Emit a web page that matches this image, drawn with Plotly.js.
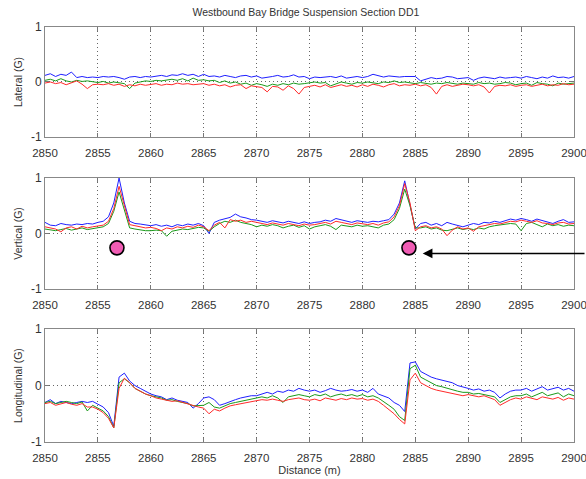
<!DOCTYPE html>
<html><head><meta charset="utf-8">
<script src="https://cdn.plot.ly/plotly-3.0.1.min.js"></script>
<style>html,body{margin:0;padding:0;background:#fff}#chart{width:586px;height:479px}</style>
</head><body><div id="chart"></div>
<script>
const distance = [2850,2850.5,2851,2851.5,2852,2852.5,2853,2853.5,2854,2854.5,
2855,2855.5,2856,2856.5,2857,2857.5,2858,2858.5,2859,2859.5,
2860,2860.5,2861,2861.5,2862,2862.5,2863,2863.5,2864,2864.5,
2865,2865.5,2866,2866.5,2867,2867.5,2868,2868.5,2869,2869.5,
2870,2870.5,2871,2871.5,2872,2872.5,2873,2873.5,2874,2874.5,
2875,2875.5,2876,2876.5,2877,2877.5,2878,2878.5,2879,2879.5,
2880,2880.5,2881,2881.5,2882,2882.5,2883,2883.5,2884,2884.5,
2885,2885.5,2886,2886.5,2887,2887.5,2888,2888.5,2889,2889.5,
2890,2890.5,2891,2891.5,2892,2892.5,2893,2893.5,2894,2894.5,
2895,2895.5,2896,2896.5,2897,2897.5,2898,2898.5,2899,2899.5,2900];

const lateralBlue = [0.12,0.15,0.10,0.14,0.12,0.18,0.08,0.10,0.08,0.09,
0.08,0.10,0.09,0.10,0.08,0.05,0.09,0.10,0.08,0.10,
0.09,0.10,0.12,0.10,0.13,0.12,0.15,0.12,0.14,0.10,
0.14,0.10,0.11,0.09,0.12,0.10,0.08,0.11,0.12,0.09,
0.11,0.07,0.08,0.10,0.12,0.09,0.10,0.13,0.09,0.10,
0.06,0.09,0.08,0.09,0.10,0.08,0.11,0.07,0.09,0.10,
0.08,0.10,0.14,0.12,0.09,0.11,0.10,0.09,0.10,0.10,
0.10,0.02,0.05,0.08,0.06,0.07,0.10,0.09,0.06,0.07,
0.08,0.03,0.07,0.09,0.08,0.06,0.09,0.07,0.08,0.09,
0.07,0.10,0.08,0.06,0.09,0.07,0.11,0.08,0.09,0.07,0.10];
const lateralGreen = [0.03,0.05,0.02,0.06,0.02,0.00,0.03,0.01,0.02,0.00,
-0.01,0.01,-0.02,0.00,-0.01,-0.03,-0.12,-0.02,0.00,0.02,
0.01,0.03,0.02,0.04,0.05,0.03,0.06,0.02,0.07,0.03,
0.04,0.02,0.03,-0.01,0.02,-0.02,0.00,-0.04,-0.02,-0.06,
-0.03,-0.05,-0.08,-0.04,-0.06,-0.03,-0.05,-0.02,-0.04,-0.03,
-0.02,0.00,-0.02,-0.01,-0.07,-0.03,0.00,-0.02,-0.04,-0.01,
-0.02,0.00,-0.01,-0.03,0.00,-0.01,0.02,-0.01,0.00,-0.02,
-0.03,-0.01,-0.02,-0.04,-0.02,-0.03,-0.01,-0.02,-0.04,-0.02,
-0.03,-0.04,-0.01,-0.03,-0.02,-0.04,-0.03,-0.01,-0.02,-0.05,
-0.03,-0.02,-0.06,-0.01,-0.03,-0.04,-0.07,-0.02,-0.04,-0.03,-0.02];
const lateralRed = [-0.02,0.00,-0.03,-0.01,-0.05,-0.02,0.02,-0.04,-0.12,-0.05,
-0.04,-0.05,-0.03,-0.06,-0.04,-0.08,-0.05,-0.07,-0.04,-0.06,
-0.05,-0.03,-0.06,-0.04,-0.05,-0.02,-0.04,-0.03,-0.05,-0.04,
-0.03,-0.06,-0.04,-0.07,-0.05,-0.09,-0.06,-0.05,-0.12,-0.07,
-0.08,-0.10,-0.18,-0.08,-0.09,-0.15,-0.07,-0.12,-0.22,-0.10,
-0.08,-0.06,-0.09,-0.05,-0.10,-0.07,-0.05,-0.08,-0.06,-0.09,
-0.05,-0.08,-0.04,-0.06,-0.09,-0.05,-0.03,-0.07,-0.05,-0.06,
-0.04,-0.07,-0.05,-0.10,-0.22,-0.08,-0.05,-0.08,-0.06,-0.04,
-0.05,-0.07,-0.05,-0.09,-0.20,-0.08,-0.06,-0.07,-0.05,-0.08,
-0.06,-0.05,-0.08,-0.06,-0.04,-0.07,-0.05,-0.06,-0.03,-0.05,-0.04];

const verticalBlue = [0.20,0.15,0.14,0.18,0.16,0.15,0.17,0.16,0.18,0.17,
0.20,0.22,0.30,0.55,1.00,0.55,0.22,0.18,0.17,0.15,
0.14,0.16,0.13,0.15,0.12,0.16,0.14,0.17,0.15,0.18,
0.14,0.00,0.20,0.24,0.27,0.29,0.35,0.30,0.28,0.25,
0.24,0.22,0.20,0.23,0.21,0.19,0.22,0.20,0.18,0.21,
0.18,0.20,0.21,0.24,0.22,0.27,0.25,0.22,0.20,0.23,
0.21,0.20,0.22,0.21,0.23,0.25,0.35,0.55,0.95,0.50,
0.08,0.18,0.20,0.15,0.18,0.14,0.20,0.17,0.15,0.12,
0.15,0.18,0.16,0.20,0.19,0.22,0.20,0.23,0.26,0.24,
0.27,0.25,0.22,0.26,0.23,0.20,0.18,0.22,0.25,0.20,0.21];
const verticalGreen = [0.08,0.06,0.05,0.07,0.09,0.06,0.08,0.10,0.07,0.09,
0.10,0.12,0.18,0.40,0.75,0.40,0.10,0.08,0.06,0.05,
0.05,0.06,0.05,-0.05,0.04,0.06,0.08,0.07,0.09,0.11,
0.10,0.04,0.12,0.18,0.22,0.20,0.24,0.20,0.18,0.16,
0.12,0.15,0.13,0.16,0.14,0.10,0.13,0.15,0.11,0.14,
0.08,0.12,0.14,0.16,0.13,0.07,0.15,0.14,0.12,0.15,
0.13,0.14,0.12,0.10,0.15,0.17,0.25,0.45,0.80,0.50,
0.10,0.10,0.12,0.08,0.10,0.06,0.05,0.08,0.10,0.07,
0.09,0.07,0.10,0.08,0.12,0.14,0.15,0.16,0.18,0.17,
0.05,0.18,0.20,0.16,0.12,0.17,0.14,0.16,0.13,0.15,0.14];
const verticalRed = [0.12,0.10,0.08,0.03,0.10,0.12,0.08,0.13,0.10,0.12,
0.14,0.15,0.22,0.45,0.85,0.50,0.16,0.14,0.12,0.10,
0.11,0.09,0.05,0.10,0.08,0.12,0.10,0.13,0.11,0.15,
0.12,0.05,0.15,0.20,0.10,0.25,0.22,0.24,0.20,0.22,
0.20,0.18,0.16,0.19,0.17,0.15,0.18,0.16,0.14,0.17,
0.15,0.16,0.18,0.20,0.17,0.22,0.20,0.18,0.16,0.19,
0.17,0.16,0.18,0.15,0.19,0.21,0.30,0.50,0.90,0.55,
0.05,0.12,0.14,0.10,0.12,0.08,-0.04,0.06,0.12,0.08,
0.10,0.04,0.12,0.14,0.16,0.18,0.17,0.20,0.22,0.21,
0.24,0.22,0.20,0.23,0.19,0.18,0.16,0.19,0.20,0.17,0.18];

const longBlue = [-0.30,-0.25,-0.32,-0.28,-0.30,-0.32,-0.30,-0.28,-0.30,-0.28,
-0.33,-0.38,-0.48,-0.72,0.15,0.22,0.08,0.00,-0.05,-0.10,
-0.15,-0.18,-0.20,-0.25,-0.22,-0.26,-0.28,-0.30,-0.40,-0.32,
-0.22,-0.20,-0.25,-0.35,-0.32,-0.28,-0.25,-0.22,-0.20,-0.18,
-0.18,-0.15,-0.12,-0.15,-0.10,-0.12,-0.08,-0.10,-0.05,-0.08,
-0.10,-0.08,-0.12,-0.09,-0.05,-0.08,-0.10,-0.09,-0.07,-0.10,
-0.08,-0.12,-0.05,-0.15,-0.18,-0.22,-0.30,-0.35,-0.46,0.40,
0.42,0.25,0.20,0.15,0.12,0.10,0.08,0.05,0.00,-0.02,
-0.05,-0.08,-0.06,-0.10,-0.08,-0.12,-0.22,-0.15,-0.10,-0.08,
-0.08,-0.05,-0.10,-0.06,-0.02,-0.08,-0.05,-0.03,-0.08,-0.05,-0.10];
const longGreen = [-0.30,-0.28,-0.32,-0.30,-0.28,-0.30,-0.32,-0.29,-0.45,-0.35,
-0.40,-0.45,-0.55,-0.75,0.05,0.12,0.05,-0.05,-0.10,-0.15,
-0.18,-0.20,-0.22,-0.26,-0.25,-0.28,-0.30,-0.32,-0.36,-0.35,
-0.35,-0.30,-0.38,-0.40,-0.36,-0.32,-0.30,-0.28,-0.25,-0.24,
-0.22,-0.20,-0.22,-0.18,-0.22,-0.30,-0.20,-0.18,-0.16,-0.18,
-0.20,-0.16,-0.18,-0.15,-0.20,-0.17,-0.15,-0.18,-0.16,-0.19,
-0.16,-0.20,-0.18,-0.22,-0.28,-0.35,-0.42,-0.55,-0.62,0.30,
0.36,0.15,0.10,0.05,0.00,-0.02,-0.05,-0.08,-0.10,-0.12,
-0.12,-0.15,-0.14,-0.16,-0.18,-0.20,-0.30,-0.25,-0.20,-0.18,
-0.18,-0.15,-0.20,-0.16,-0.12,-0.18,-0.15,-0.13,-0.20,-0.15,-0.18];
const longRed = [-0.32,-0.30,-0.35,-0.32,-0.30,-0.33,-0.35,-0.32,-0.38,-0.38,
-0.42,-0.48,-0.58,-0.75,-0.05,0.13,0.05,-0.05,-0.10,-0.15,
-0.18,-0.22,-0.24,-0.26,-0.28,-0.27,-0.30,-0.32,-0.35,-0.38,
-0.40,-0.50,-0.42,-0.45,-0.40,-0.36,-0.34,-0.32,-0.30,-0.28,
-0.27,-0.25,-0.26,-0.24,-0.26,-0.28,-0.25,-0.24,-0.22,-0.25,
-0.26,-0.24,-0.27,-0.22,-0.24,-0.26,-0.23,-0.25,-0.22,-0.24,
-0.23,-0.26,-0.24,-0.28,-0.35,-0.42,-0.50,-0.60,-0.68,0.10,
0.22,0.05,0.00,-0.05,-0.08,-0.10,-0.12,-0.14,-0.15,-0.18,
-0.16,-0.18,-0.20,-0.18,-0.22,-0.25,-0.35,-0.30,-0.25,-0.22,
-0.24,-0.20,-0.22,-0.25,-0.20,-0.22,-0.24,-0.21,-0.26,-0.22,-0.24];

const markerDistance = [2856.8, 2884.4];
const markerValue = [-0.26, -0.26];
const arrowDistance = 2885.7;
const arrowValue = -0.36;

const panelTitles = ['Lateral (G)', 'Vertical (G)', 'Longitudinal (G)'];
const xTicks = [2850,2855,2860,2865,2870,2875,2880,2885,2890,2895,2900];
const yTicks = [-1, 0, 1];

const colors = {blue:'#1f1fff', green:'#1a9a1a', red:'#ff2a2a'};
const panels = [
  [lateralBlue, lateralGreen, lateralRed],
  [verticalBlue, verticalGreen, verticalRed],
  [longBlue, longGreen, longRed]
];
const traces = [];
panels.forEach((p, i) => {
  const sfx = i === 0 ? '' : String(i + 1);
  [['blue',p[0]],['green',p[1]],['red',p[2]]].forEach(([c, ys]) => {
    traces.push({x: distance, y: ys, type:'scatter', mode:'lines',
      xaxis:'x'+sfx, yaxis:'y'+sfx, line:{color:colors[c], width:1}, hoverinfo:'skip'});
  });
});
traces.push({x: markerDistance, y: markerValue, type:'scatter', mode:'markers',
  xaxis:'x2', yaxis:'y2', cliponaxis:false,
  marker:{size:14, color:'#f05cb4', line:{color:'#000', width:1.6}}});

const domains = [[0.735,1],[0.369,0.636],[0,0.272]];
const layout = {
  width:586, height:479, showlegend:false,
  paper_bgcolor:'#fff', plot_bgcolor:'#fff',
  margin:{l:45, r:12, t:27, b:37},
  font:{family:'Liberation Sans, Arial, sans-serif', size:11, color:'#222'},
  title:{text:'Westbound Bay Bridge Suspension Section DD1', x:0.522, xanchor:'center', y:0.975, yanchor:'middle', font:{size:10.5, color:'#333'}},
  annotations:[{x:arrowDistance, y:arrowValue, xref:'x2', yref:'y2', ax:165, ay:0, axref:'pixel', ayref:'pixel',
    showarrow:true, arrowhead:2, arrowsize:1.3, arrowwidth:1.5, arrowcolor:'#000', text:'', standoff:0}]
};
domains.forEach((d, i) => {
  const sfx = i === 0 ? '' : String(i + 1);
  layout['xaxis'+sfx] = {domain:[0,1], anchor:'y'+sfx, range:[2849.999,2900.001], tickvals:xTicks,
    ticks:'inside', ticklen:4, tickcolor:'#777', showline:true, linecolor:'#888', linewidth:1, mirror:'allticks',
    showgrid:true, gridcolor:'#666', griddash:'1px,3px', gridwidth:1, zeroline:false,
    tickfont:{size:11.5, color:'#333'}, ticklabelstandoff:5, ticklabeloverflow:'allow',
    title: i === 2 ? {text:'Distance (m)', font:{size:11, color:'#333'}, standoff:0} : {text:''}};
  layout['yaxis'+sfx] = {domain:d, anchor:'x'+sfx, range:[-1,1], tickvals:yTicks, ticktext:['-1','0','1'],
    ticks:'inside', ticklen:4, tickcolor:'#777', showline:true, linecolor:'#888', linewidth:1, mirror:'allticks',
    showgrid:true, gridcolor:'#666', griddash:'1px,3px', gridwidth:1, zeroline:false,
    tickfont:{size:12, color:'#333'},
    title:{text:panelTitles[i], font:{size:10.5, color:'#333'}, standoff:6}};
});
Plotly.newPlot('chart', traces, layout, {staticPlot:true, displayModeBar:false});
</script></body></html>
